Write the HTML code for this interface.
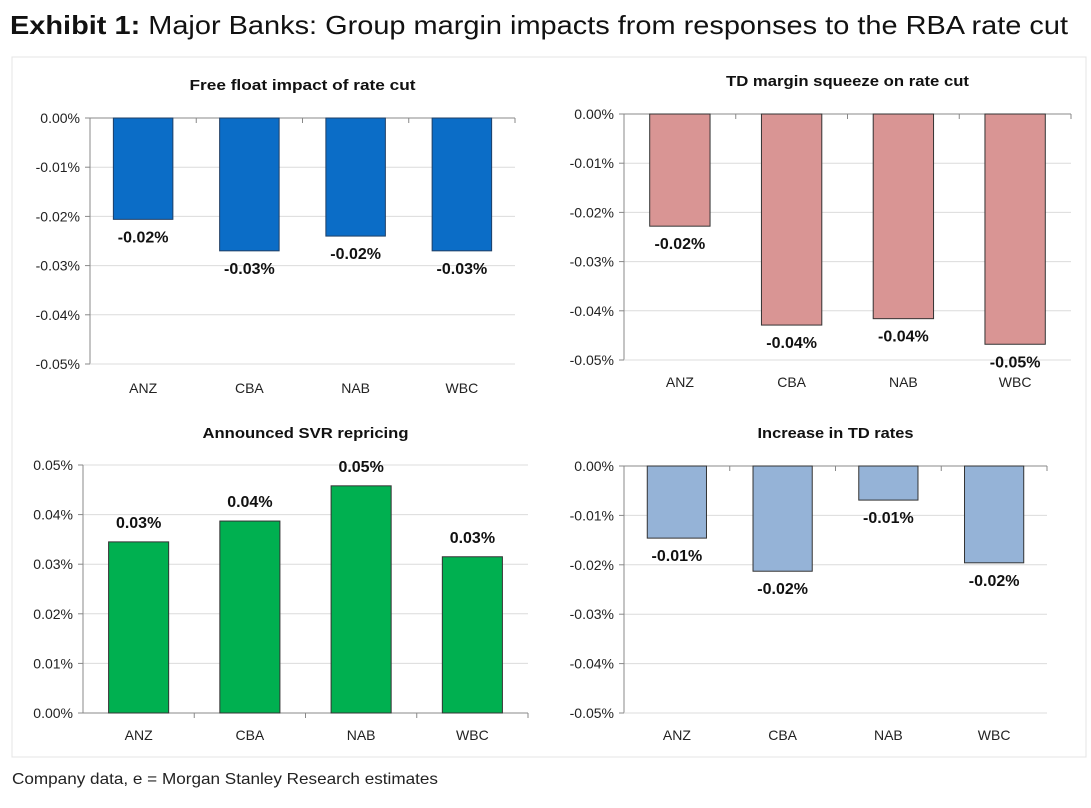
<!DOCTYPE html>
<html><head><meta charset="utf-8"><style>
body{margin:0;background:#fff;width:1091px;height:808px;overflow:hidden;font-family:"Liberation Sans",sans-serif}
svg{position:absolute;left:0;top:0}
</style></head><body>
<svg id="c" width="1091" height="808">
<text x="10" y="34" font-size="26" fill="#111" textLength="1058" lengthAdjust="spacingAndGlyphs"><tspan font-weight="bold">Exhibit 1:</tspan> Major Banks: Group margin impacts from responses to the RBA rate cut</text>
<rect x="12" y="57" width="1074" height="700" fill="none" stroke="#e4e4e4"/>
<text x="12" y="784" font-size="16" fill="#222" textLength="426" lengthAdjust="spacingAndGlyphs">Company data, e = Morgan Stanley Research estimates</text>
</svg>
<script>
const categories=["ANZ","CBA","NAB","WBC"];
const freeFloat=[-0.0206,-0.027,-0.024,-0.027];
const freeFloatLabels=["-0.02%","-0.03%","-0.02%","-0.03%"];
const tdSqueeze=[-0.0228,-0.0429,-0.0416,-0.0468];
const tdSqueezeLabels=["-0.02%","-0.04%","-0.04%","-0.05%"];
const svrRepricing=[0.0345,0.0387,0.0458,0.0315];
const svrLabels=["0.03%","0.04%","0.05%","0.03%"];
const tdIncrease=[-0.0146,-0.0213,-0.0069,-0.0196];
const tdIncreaseLabels=["-0.01%","-0.02%","-0.01%","-0.02%"];
const negTicks=[0,-0.01,-0.02,-0.03,-0.04,-0.05];
const posTicks=[0,0.01,0.02,0.03,0.04,0.05];
const svg=document.getElementById('c');
const NS='http://www.w3.org/2000/svg';
function mk(t,a,txt){const e=document.createElementNS(NS,t);for(const k in a)e.setAttribute(k,a[k]);if(txt!==undefined)e.textContent=txt;svg.appendChild(e);return e;}
function chart(o){
  const {x0,x1,yTop,yBot,vTop,vBot,ticks,vals,labels,fill,stroke,title,titleY,titleW,catY,key,bwFrac}=o;
  const y=v=>yTop+(vTop-v)/(vTop-vBot)*(yBot-yTop);
  const cw=(x1-x0)/categories.length;
  const xc=i=>x0+cw*(i+0.5);
  let t=mk('text',{x:(x0+x1)/2,y:titleY,'text-anchor':'middle','font-size':15,'font-weight':'bold',fill:'#111',textLength:titleW,lengthAdjust:'spacingAndGlyphs'},title);
  
  
  ticks.forEach(v=>{
    const yy=y(v);
    if(v!==0&&v!==vBot){let g=mk('line',{x1:x0,x2:x1,y1:yy,y2:yy,stroke:'#dcdcdc'});}
    let l=mk('text',{x:x0-10,y:yy+5,'text-anchor':'end','font-size':14,fill:'#222'},(v===0?'0.00':v.toFixed(2))+'%');
    
    
    mk('line',{x1:x0-5,x2:x0,y1:yy,y2:yy,stroke:'#888'});
  });
  const zy=y(0);
  const by=y(vBot);
  mk('line',{x1:x0,x2:x0,y1:yTop,y2:yBot,stroke:'#888'});
  mk('line',{x1:x0,x2:x1,y1:zy,y2:zy,stroke:'#888'});
  if(vBot!==0){mk('line',{x1:x0,x2:x1,y1:by,y2:by,stroke:'#dcdcdc'});}
  for(let i=1;i<=categories.length;i++){mk('line',{x1:x0+cw*i,x2:x0+cw*i,y1:zy,y2:zy+5,stroke:'#888'});}
  const bw=cw*bwFrac;
  vals.forEach((v,i)=>{
    const ya=y(v);
    let r=mk('rect',{x:xc(i)-bw/2,y:Math.min(ya,zy),width:bw,height:Math.abs(ya-zy),fill:fill,stroke:stroke,'stroke-width':1});
    
    
    const ly=v<0?ya+23:ya-14;
    let lb=mk('text',{x:xc(i),y:ly,'text-anchor':'middle','font-size':16,'font-weight':'bold',fill:'#111'},labels[i]);
    
    
    let c=mk('text',{x:xc(i),y:catY,'text-anchor':'middle','font-size':14,fill:'#222'},categories[i]);
    
    
  });
}
chart({key:'free-float',x0:90,x1:515,yTop:118,yBot:364,vTop:0,vBot:-0.05,ticks:negTicks,vals:freeFloat,labels:freeFloatLabels,fill:'#0b6dc7',stroke:'#1f3f66',title:'Free float impact of rate cut',titleY:90,titleW:226,catY:393,bwFrac:0.56});
chart({key:'td-squeeze',x0:624,x1:1071,yTop:114,yBot:360,vTop:0,vBot:-0.05,ticks:negTicks,vals:tdSqueeze,labels:tdSqueezeLabels,fill:'#d99594',stroke:'#333',title:'TD margin squeeze on rate cut',titleY:86,titleW:243,catY:387,bwFrac:0.54});
chart({key:'svr-repricing',x0:83,x1:528,yTop:465,yBot:713,vTop:0.05,vBot:0,ticks:posTicks,vals:svrRepricing,labels:svrLabels,fill:'#00b050',stroke:'#333',title:'Announced SVR repricing',titleY:438,titleW:206,catY:740,bwFrac:0.54});
chart({key:'td-increase',x0:624,x1:1047,yTop:466,yBot:713,vTop:0,vBot:-0.05,ticks:negTicks,vals:tdIncrease,labels:tdIncreaseLabels,fill:'#95b3d7',stroke:'#333',title:'Increase in TD rates',titleY:438,titleW:156,catY:740,bwFrac:0.56});
</script>
</body></html>
